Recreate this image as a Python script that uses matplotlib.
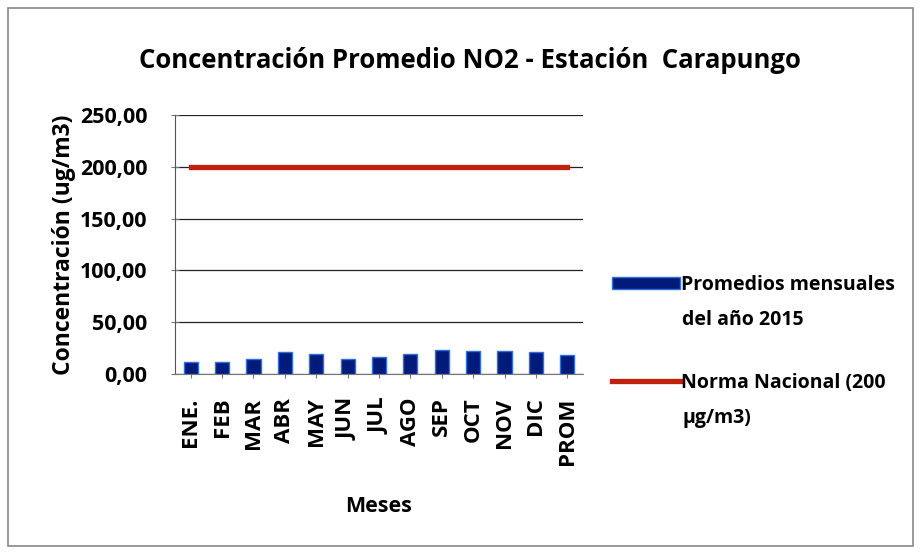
import matplotlib.pyplot as plt
import matplotlib.patches as mpatches
import numpy as np

meses = ['ENE.', 'FEB', 'MAR', 'ABR', 'MAY', 'JUN', 'JUL', 'AGO', 'SEP', 'OCT', 'NOV', 'DIC', 'PROM']
promedios = [12, 12, 14, 21, 19, 14, 16, 19, 23, 22, 22, 21, 18.5]
norma = [200] * len(meses)
y_ticks = [0, 50, 100, 150, 200, 250]

plt.rcParams['font.family'] = ['Open Sans', 'DejaVu Sans']
plt.rcParams['font.weight'] = 'bold'

bar_col = '#021a7a'
bar_edge = '#2f6fe0'
line_col = '#c0200c'

fig = plt.figure(figsize=(9.21, 5.54), dpi=100)
ax = fig.add_axes([175 / 921, 1 - 374 / 554, (583 - 175) / 921, (374 - 115) / 554])

x = np.arange(len(meses))
ax.bar(x, promedios, width=0.45, color=bar_col, edgecolor=bar_edge, linewidth=1.0, zorder=3)
ax.plot(x, norma, color=line_col, linewidth=3.8, zorder=4)

ax.set_xlim(-0.5, len(meses) - 0.5)
ax.set_ylim(0, 250)
ax.set_yticks(y_ticks)
ax.set_yticklabels(['{:.2f}'.format(v).replace('.', ',') for v in y_ticks], fontsize=15.5, fontweight='bold')
ax.set_xticks(x)
ax.set_xticklabels(meses, rotation=90, fontsize=16, fontweight='bold')
ax.grid(axis='y', color='#222222', linewidth=0.9, zorder=0)

for s in ['top', 'right']:
    ax.spines[s].set_visible(False)
ax.spines['left'].set_color('#555555')
ax.spines['bottom'].set_color('#777777')
ax.tick_params(axis='both', color='#777777', length=6, direction='inout')
ax.tick_params(axis='x', pad=14)
ax.tick_params(axis='y', pad=17)

ax.set_ylabel('Concentración (ug/m3)', fontsize=16.5, fontweight='bold', labelpad=3)
ax.set_xlabel('Meses', fontsize=15.5, fontweight='bold', labelpad=22)
fig.text(470 / 921, 1 - 60 / 554, 'Concentración Promedio NO2 - Estación  Carapungo',
         ha='center', va='center', fontsize=18.5, fontweight='bold')

# legend: one entry each so the handles sit on the first text line
h1 = mpatches.Patch(facecolor=bar_col, edgecolor=bar_edge)
h2 = plt.Line2D([], [], color=line_col, linewidth=3.8)
for h, lab, yy in [(h1, 'Promedios mensuales', 285), (h2, 'Norma Nacional (200', 383)]:
    lg = fig.legend([h], [lab], loc='center left', bbox_to_anchor=(612 / 921, 1 - yy / 554),
                    frameon=False, fontsize=14, handlelength=3.5, handletextpad=0.05,
                    borderpad=0, borderaxespad=0, handleheight=0.6)
fig.text(682 / 921, 1 - 320 / 554, 'del año 2015', fontsize=14, fontweight='bold', va='center')
fig.text(682 / 921, 1 - 418 / 554, 'µg/m3)', fontsize=14, fontweight='bold', va='center')

fig.patches.append(mpatches.Rectangle((8 / 921, 8 / 554), 905 / 921, 538 / 554, transform=fig.transFigure,
                                      fill=False, edgecolor='#888888', linewidth=1.2))

fig.savefig('out.png', dpi=100)
